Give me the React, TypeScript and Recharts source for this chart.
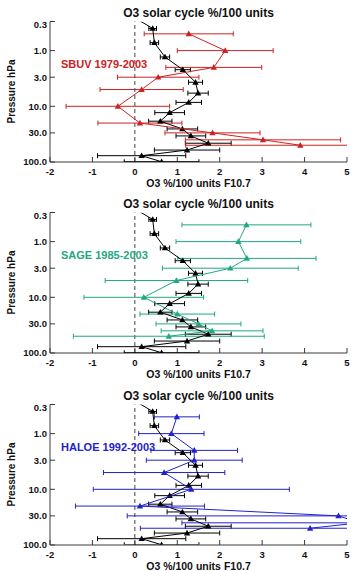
import React from 'react';
import { ComposedChart, Scatter, XAxis, YAxis, ErrorBar, ReferenceLine } from 'recharts';

// Axis ticks
const pressureTicks = [0.3, 1, 3, 10, 30, 100];
const valueTicks = [-2, -1, 0, 1, 2, 3, 4, 5];

// Reference profile (black) shared by all panels
const refPressure = [0.22, 0.4, 0.72, 1.3, 2.2, 3.7, 5.8, 8.5, 13, 18.5, 25.5, 34, 46, 61, 77, 99];
const refValue = [-0.15, 0.42, 0.46, 0.71, 1.13, 1.43, 1.49, 1.27, 0.82, 0.6, 1.12, 1.32, 1.73, 1.23, 0.16, 0.63];
const refError = [0.1, 0.09, 0.1, 0.11, 0.18, 0.165, 0.24, 0.3, 0.35, 0.275, 0.36, 0.35, 0.54, 0.77, 1.04, 0.88];

// Instrument profiles
const instPressure = [0.5, 1, 2, 3, 5, 10, 20, 30, 40, 50];

const sbuvValue = [1.27, 2.13, 1.86, 0.55, 0.16, -0.4, 0.12, 1.83, 3.02, 3.9];
const sbuvError = [1.05, 1.13, 1.13, 0.96, 0.98, 1.22, 0.99, 1.12, 1.83, 2.7];

const sageValue = [2.63, 2.44, 2.64, 2.25, 0.98, 0.21, 1.0, 1.5, 1.82, 0.8];
const sageError = [1.52, 1.47, 1.63, 1.6, 1.68, 1.41, 0.88, 1.0, 1.2, 2.25];

const haloeValue = [0.99, 0.86, 1.4, 1.4, 0.69, 1.33, 0.12, 4.8, 5.3, 4.13];
const haloeError = [0.53, 0.77, 1.02, 1.13, 1.43, 2.31, 1.52, 4.98, 4.19, 4.0];

const FONT = '"Liberation Sans", Arial, Helvetica, sans-serif';
const AXIS = '#3a3a3a';

type Pt = { x: number; y: number; e: number };
const toPoints = (p: number[], v: number[], e: number[]): Pt[] =>
  p.map((pp, i) => ({ y: pp, x: v[i], e: e[i] }));

const refPoints = toPoints(refPressure, refValue, refError);

const W = 353;
const H = 191;
const M_TOP = 21.5;
const M_RIGHT = 6;
const Y_W = 50;
const X_H = 29;

// small filled triangle marker
const triangle = (fill: string) => (props: any) => {
  const { cx, cy } = props;
  if (cx == null || cy == null) return <g />;
  return (
    <path
      d={`M${cx},${cy - 3.3}L${cx + 3.2},${cy + 2.4}L${cx - 3.2},${cy + 2.4}Z`}
      fill={fill}
      stroke="none"
    />
  );
};
const noMark = () => <g />;

// pressure tick label; the topmost one sits just inside the frame
const PressureTick = (props: any) => {
  const { x, y, payload } = props;
  const v = payload.value as number;
  const shift = v === pressureTicks[0] ? 3.5 : 0;
  return (
    <text
      x={x}
      y={y + shift}
      dy="0.355em"
      textAnchor="end"
      fill="#111"
      fontSize={9.5}
      fontWeight="bold"
      fontFamily={FONT}
    >
      {v.toFixed(1)}
    </text>
  );
};

type PanelProps = {
  label: string;
  color: string;
  values: number[];
  errors: number[];
  top: number;
};

function Panel({ label, color, values, errors, top }: PanelProps) {
  const pts = toPoints(instPressure, values, errors);
  const tickStyle = { fill: '#111', fontSize: 9.5, fontWeight: 'bold' as const, fontFamily: FONT };
  return (
    <div style={{ position: 'absolute', left: 0, top, width: W, height: H }}>
      {/* frame, ticks and zero line */}
      <ComposedChart width={W} height={H} margin={{ top: M_TOP, right: M_RIGHT, bottom: 0, left: 0 }}>
        <XAxis
          xAxisId="b"
          type="number"
          dataKey="x"
          orientation="bottom"
          domain={[-2, 5]}
          ticks={valueTicks}
          interval={0}
          allowDataOverflow
          height={X_H}
          tickSize={-5}
          tickMargin={11}
          stroke={AXIS}
          tick={tickStyle}
        />
        <XAxis
          xAxisId="t"
          type="number"
          orientation="top"
          domain={[-2, 5]}
          ticks={valueTicks}
          interval={0}
          allowDataOverflow
          height={0}
          tickSize={-5}
          stroke={AXIS}
          tick={false}
        />
        <YAxis
          yAxisId="l"
          type="number"
          dataKey="y"
          scale="log"
          orientation="left"
          domain={[0.3, 100]}
          ticks={pressureTicks}
          interval={0}
          reversed
          allowDataOverflow
          width={Y_W}
          tickSize={-5}
          tickMargin={8}
          stroke={AXIS}
          tick={<PressureTick />}
        />
        <YAxis
          yAxisId="r"
          type="number"
          scale="log"
          orientation="right"
          domain={[0.3, 100]}
          ticks={pressureTicks}
          interval={0}
          reversed
          allowDataOverflow
          width={0}
          tickSize={-5}
          stroke={AXIS}
          tick={false}
        />
        <ReferenceLine xAxisId="b" yAxisId="l" x={0} stroke="#444" strokeDasharray="4 3" strokeWidth={1} />
        {/* binds the frame axes to the profile data; draws no marks */}
        <Scatter xAxisId="b" yAxisId="l" data={refPoints} shape={noMark} isAnimationActive={false} />
      </ComposedChart>

      {/* profiles, clipped to the plot box */}
      <div
        style={{
          position: 'absolute',
          left: 0,
          top: 0,
          width: W,
          height: H,
          clipPath: `inset(${M_TOP}px ${M_RIGHT}px ${X_H}px ${Y_W}px)`,
        }}
      >
        <ComposedChart
          width={W}
          height={H}
          margin={{ top: M_TOP, right: M_RIGHT, bottom: X_H, left: Y_W }}
        >
          <XAxis type="number" dataKey="x" domain={[-2, 5]} allowDataOverflow hide />
          <YAxis
            type="number"
            dataKey="y"
            scale="log"
            domain={[0.3, 100]}
            reversed
            allowDataOverflow
            hide
          />
          <Scatter
            data={refPoints}
            fill="#000"
            shape={triangle('#000')}
            line={{ stroke: '#000', strokeWidth: 1 }}
            lineJointType="linear"
            isAnimationActive={false}
          >
            <ErrorBar dataKey="e" direction="x" width={2.5} stroke="#000" strokeWidth={1} />
          </Scatter>
          <Scatter
            data={pts}
            fill={color}
            shape={triangle(color)}
            line={{ stroke: color, strokeWidth: 1 }}
            lineJointType="linear"
            isAnimationActive={false}
          >
            <ErrorBar dataKey="e" direction="x" width={2.5} stroke={color} strokeWidth={1} />
          </Scatter>
        </ComposedChart>
      </div>

      <svg
        width={W}
        height={H}
        style={{ position: 'absolute', left: 0, top: 0, pointerEvents: 'none' }}
        fontFamily={FONT}
        fontWeight="bold"
      >
        <text x={198.5} y={16.5} textAnchor="middle" fontSize={12} fill="#111">
          O3 solar cycle %/100 units
        </text>
        <text x={61} y={67.5} fontSize={11} fill={color}>
          {label}
        </text>
        <text
          x={0}
          y={0}
          transform="translate(15.2 91.5) rotate(-90)"
          textAnchor="middle"
          fontSize={10}
          fill="#111"
        >
          Pressure hPa
        </text>
        <text x={198.5} y={187} textAnchor="middle" fontSize={10.5} fill="#111">
          O3 %/100 units F10.7
        </text>
      </svg>
    </div>
  );
}

export default function App() {
  return (
    <div
      style={{
        position: 'absolute',
        left: 0,
        top: 0,
        width: W,
        height: 571,
        overflow: 'hidden',
        background: '#fff',
      }}
    >
      <Panel label="SBUV 1979-2003" color="#cc2222" values={sbuvValue} errors={sbuvError} top={0} />
      <Panel label="SAGE 1985-2003" color="#1fa882" values={sageValue} errors={sageError} top={191} />
      <Panel label="HALOE 1992-2003" color="#2222cc" values={haloeValue} errors={haloeError} top={382.5} />
    </div>
  );
}
